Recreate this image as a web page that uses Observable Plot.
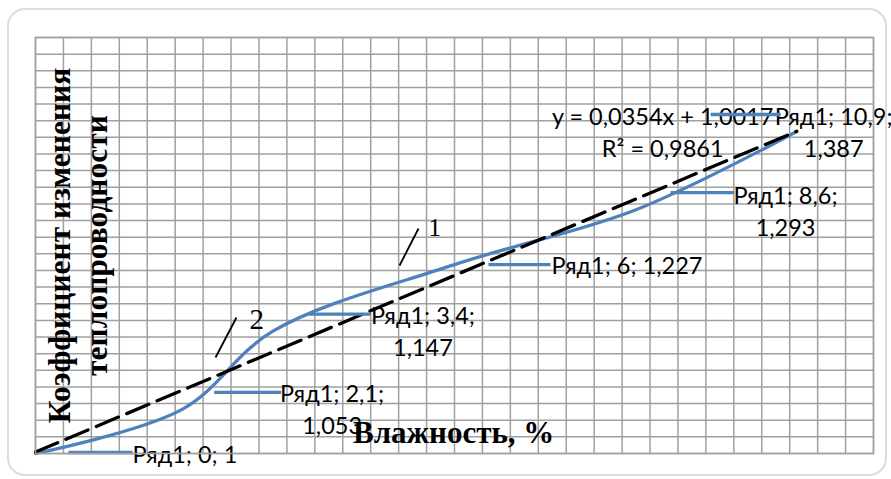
<!DOCTYPE html>
<html>
<head>
<meta charset="utf-8">
<script src="https://cdn.jsdelivr.net/npm/d3@7"></script>
<script src="https://cdn.jsdelivr.net/npm/@observablehq/plot@0.6"></script>
<style>
  body { margin: 0; background: #fff; }
  #wrap { position: relative; width: 891px; height: 479px; overflow: hidden; background: #fff; }
  #border { position: absolute; left: 7px; top: 8px; width: 880px; height: 468px; box-sizing: border-box;
            border: 2px solid #dcdcdc; border-radius: 18px; }
  #wrap svg { position: absolute; left: 0; top: 0; }
</style>
</head>
<body>
<div id="wrap"><div id="border"></div></div>
<script>
// ---- data ----
const moisture    = [0, 2.1, 3.4, 6, 8.6, 10.9];
const coefficient = [1, 1.053, 1.147, 1.227, 1.293, 1.387];
const seriesName  = "Ряд1";
const rSquared    = "0,9861";
const xDomain = [0, 12];
const yDomain = [1, 1.5];
const xMinorStep = 0.4;
const yMinorStep = 0.02;
const xTitle = "Влажность, %";
const yTitle = "Коэффициент изменения\nтеплопроводности";
// curve markers "1" (data curve) and "2" (trend line), in data units
const markerText = ["1", "2"];
const markerTextX = [5.628, 3.065];
const markerTextY = [1.262, 1.1502];
const markerLineX1 = [5.485, 2.878];
const markerLineY1 = [1.2704, 1.1635];
const markerLineX2 = [5.213, 2.578];
const markerLineY2 = [1.226, 1.1154];

// ---- layout ----
const W = 891, H = 479;
const mL = 35, mR = 18, mT = 37, mB = 26;
const kx = (W - mL - mR) / (xDomain[1] - xDomain[0]);   // px per x unit
const ky = (H - mT - mB) / (yDomain[1] - yDomain[0]);   // px per y unit
// label offsets in pixels relative to each point (converted to data units below)
const labelLayout = [
  {wrap: false, dx: 149.5, dy: 9,  l0: 33,   l1: 97,  ly: -1},
  {wrap: true,  dx: 150,   dy: 25, l0: 32,   l1: 99,  ly: -17},
  {wrap: true,  dx: 150,   dy: 25, l0: 35,   l1: 98,  ly: -17},
  {wrap: false, dx: 172.5, dy: 9,  l0: 34,   l1: 96,  ly: 0},
  {wrap: true,  dx: 149.5, dy: 26, l0: 34.5, l1: 98,  ly: -17},
  {wrap: true,  dx: 37,    dy: 25, l0: -86,  l1: -16, ly: -17}
];
const eqOffset = {dx: -134, dy: 25};

const fmt = v => String(v).replace(".", ",");
const points = moisture.map((x, i) => ({x, y: coefficient[i], ...labelLayout[i]}));
points.forEach(p => {
  p.label = `${seriesName}; ${fmt(p.x)};${p.wrap ? "\n" : " "}${fmt(p.y)}`;
  p.lx = p.x + p.dx / kx;
  p.lyText = p.y - p.dy / ky;
  p.leadX1 = p.x + p.l0 / kx;
  p.leadX2 = p.x + p.l1 / kx;
  p.leadY = p.y - p.ly / ky;
});
const markers = markerText.map((t, i) => ({t, x: markerTextX[i], y: markerTextY[i],
  x1: markerLineX1[i], y1: markerLineY1[i], x2: markerLineX2[i], y2: markerLineY2[i]}));

// least-squares (for the equation text)
const mx = d3.mean(moisture), my = d3.mean(coefficient);
const slope = d3.sum(moisture, (x, i) => (x - mx) * (coefficient[i] - my)) / d3.sum(moisture, x => (x - mx) ** 2);
const intercept = my - slope * mx;
const eqText = `y = ${slope.toFixed(4).replace(".", ",")}x + ${intercept.toFixed(4).replace(".", ",")}\nR² = ${rSquared}`;
const last = points[points.length - 1];
const eq = [{t: eqText, x: last.x + eqOffset.dx / kx, y: last.y - eqOffset.dy / ky}];

const xGrid = d3.range(0, Math.round((xDomain[1] - xDomain[0]) / xMinorStep) + 1).map(i => xDomain[0] + i * xMinorStep);
const yGrid = d3.range(0, Math.round((yDomain[1] - yDomain[0]) / yMinorStep) + 1).map(i => yDomain[0] + i * yMinorStep);

const labelFont = "Lato, 'Open Sans', sans-serif";
const serif = "'Liberation Serif', 'DejaVu Serif', serif";
const blue = "#4f81bd";

const chart = Plot.plot({
  width: W, height: H,
  marginLeft: mL, marginRight: mR, marginTop: mT, marginBottom: mB,
  style: {background: "transparent", overflow: "visible"},
  x: {domain: xDomain, axis: null},
  y: {domain: yDomain, axis: null},
  marks: [
    Plot.ruleX(xGrid, {stroke: "#a0a0a0", strokeWidth: 1.5}),
    Plot.ruleY(yGrid, {stroke: "#a0a0a0", strokeWidth: 1.5}),
    // axis titles
    Plot.text([yTitle], {frameAnchor: "left", rotate: -90, textAnchor: "middle", lineAnchor: "bottom",
      dx: 71.5, dy: 0, fontFamily: serif, fontWeight: "bold", fontSize: 31.5, lineHeight: 1.18, fill: "#000"}),
    Plot.text([xTitle], {frameAnchor: "bottom-left", textAnchor: "start", lineAnchor: "bottom",
      dx: 317.5, dy: -11, fontFamily: serif, fontWeight: "bold", fontSize: 31, fill: "#000"}),
    // data series (smoothed)
    Plot.line(points, {x: "x", y: "y", curve: "catmull-rom", stroke: blue, strokeWidth: 3.3}),
    // linear trend line
    Plot.linearRegressionY(points, {x: "x", y: "y", ci: 0, stroke: "#000", strokeWidth: 3.3, strokeDasharray: "24,9"}),
    // curve markers
    Plot.link(markers, {x1: "x1", y1: "y1", x2: "x2", y2: "y2", stroke: "#000", strokeWidth: 1.8}),
    Plot.text(markers.filter(d => d.t === "1"), {x: "x", y: "y", text: "t", textAnchor: "start", lineAnchor: "bottom",
      fontFamily: serif, fontSize: 25, fill: "#000"}),
    Plot.text(markers.filter(d => d.t === "2"), {x: "x", y: "y", text: "t", textAnchor: "start", lineAnchor: "bottom",
      fontFamily: serif, fontSize: 29, fill: "#000"}),
    // data labels
    Plot.text(points, {x: "lx", y: "lyText", text: "label",
      textAnchor: "middle", lineAnchor: "bottom", lineHeight: 32 / 23.5,
      fontFamily: labelFont, fontSize: 23.5, fill: "#000"}),
    // trend equation
    Plot.text(eq, {x: "x", y: "y", text: "t",
      textAnchor: "middle", lineAnchor: "bottom", lineHeight: 32 / 23.5,
      fontFamily: labelFont, fontSize: 23.5, fill: "#000"}),
    // leader lines
    Plot.link(points, {x1: "leadX1", x2: "leadX2", y1: "leadY", y2: "leadY", stroke: blue, strokeWidth: 3.3}),
    Plot.frame({stroke: "#a0a0a0", strokeWidth: 1.5})
  ]
});
document.getElementById("wrap").appendChild(chart);
</script>
</body>
</html>
